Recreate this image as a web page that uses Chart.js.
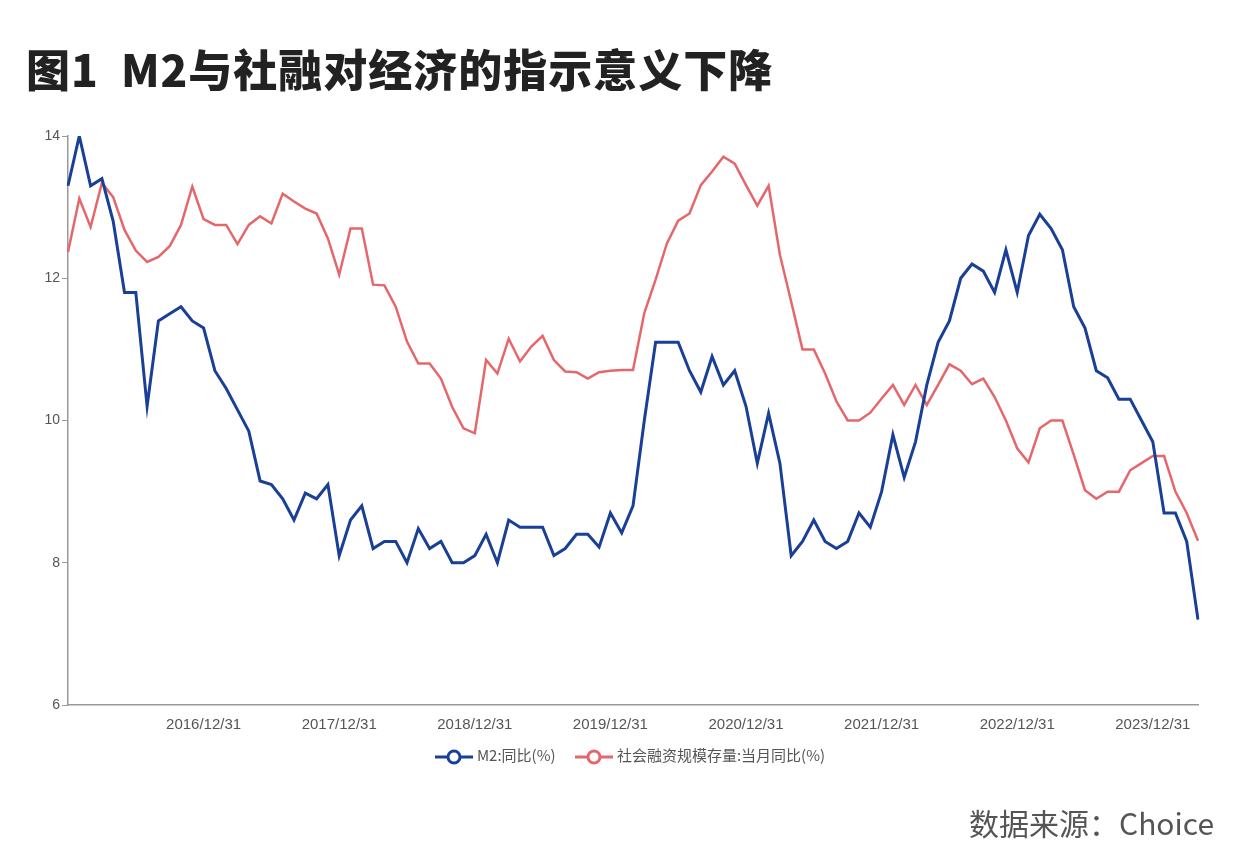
<!DOCTYPE html>
<html>
<head>
<meta charset="utf-8">
<script src="https://cdn.jsdelivr.net/npm/chart.js@4"></script>
<style>
  body { margin: 0; background: #fff; font-family: "Noto Sans CJK SC", "Noto Sans", sans-serif; }
  #wrap { position: relative; width: 1240px; height: 860px; }
  #chart { position: absolute; left: 0; top: 0; }
  h1 { position: absolute; left: 26px; top: 36px; margin: 0; font-size: 44px; font-weight: 900; color: #222; letter-spacing: 1px; }
  #legend { position: absolute; top: 744px; left: 0; width: 1260px; text-align: center; font-size: 15px; color: #555; }
  #legend span { margin: 0 8px; }
  #legend svg { vertical-align: middle; margin-right: 4px; }
  #src { position: absolute; right: 26px; top: 800px; font-size: 30px; color: #555; }
</style>
</head>
<body>
<div id="wrap">
  <canvas id="chart" width="1240" height="860"></canvas>
  <h1>图1&nbsp;&nbsp;M2与社融对经济的指示意义下降</h1>
  <div id="legend">
    <span><svg width="38" height="16"><line x1="0" y1="8" x2="38" y2="8" stroke="#1a3f96" stroke-width="3"/><circle cx="19" cy="8" r="6" fill="#fff" stroke="#1a3f96" stroke-width="3"/></svg>M2:同比(%)</span>
    <span><svg width="38" height="16"><line x1="0" y1="8" x2="38" y2="8" stroke="#e5676b" stroke-width="3"/><circle cx="19" cy="8" r="6" fill="#fff" stroke="#e5676b" stroke-width="3"/></svg>社会融资规模存量:当月同比(%)</span>
  </div>
  <div id="src">数据来源：Choice</div>
</div>
<script>
// monthly, 2015/12 .. 2024/04
const months = [];
for (let y = 2015, m = 12; y < 2024 || m <= 4; ) {
    const last = new Date(y, m, 0).getDate();
    months.push(y + '/' + String(m).padStart(2, '0') + '/' + last);
    m++;
    if (m > 12) { m = 1; y++; }
}

const m2 = [13.3, 14.0, 13.3, 13.4, 12.8, 11.8, 11.8, 10.2, 11.4, 11.5, 11.6, 11.4, 11.3,
    10.7, 10.45, 10.15, 9.85, 9.15, 9.1, 8.9, 8.6, 8.98, 8.9, 9.1, 8.1,
    8.6, 8.8, 8.2, 8.3, 8.3, 8.0, 8.48, 8.2, 8.3, 8.0, 8.0, 8.1,
    8.4, 8.0, 8.6, 8.5, 8.5, 8.5, 8.1, 8.2, 8.4, 8.4, 8.22, 8.7,
    8.42, 8.8, 10.0, 11.1, 11.1, 11.1, 10.7, 10.4, 10.9, 10.5, 10.7, 10.2,
    9.4, 10.1, 9.4, 8.1, 8.3, 8.6, 8.3, 8.2, 8.3, 8.7, 8.5, 9.0,
    9.8, 9.2, 9.7, 10.5, 11.1, 11.4, 12.0, 12.2, 12.1, 11.8, 12.4, 11.8,
    12.6, 12.9, 12.7, 12.4, 11.6, 11.3, 10.7, 10.6, 10.3, 10.3, 10.0, 9.7,
    8.7, 8.7, 8.3, 7.2];

const tsf = [12.37, 13.12, 12.72, 13.34, 13.14, 12.68, 12.39, 12.23, 12.3, 12.45, 12.75, 13.29, 12.83,
    12.75, 12.75, 12.48, 12.75, 12.87, 12.77, 13.19, 13.08, 12.98, 12.91, 12.56, 12.05,
    12.7, 12.7, 11.91, 11.9, 11.6, 11.11, 10.8, 10.8, 10.59, 10.19, 9.89, 9.82,
    10.85, 10.66, 11.15, 10.83, 11.04, 11.19, 10.85, 10.69, 10.68, 10.59, 10.68, 10.7,
    10.71, 10.71, 11.51, 11.98, 12.49, 12.81, 12.91, 13.31, 13.5, 13.71, 13.61, 13.31,
    13.02, 13.3, 12.33, 11.67, 11.0, 11.0, 10.66, 10.27, 10.0, 10.0, 10.11, 10.31,
    10.5, 10.22, 10.5, 10.22, 10.5, 10.79, 10.7, 10.51, 10.59, 10.33, 10.0, 9.61,
    9.41, 9.89, 10.0, 10.0, 9.52, 9.02, 8.9, 9.0, 9.0, 9.3, 9.4, 9.5,
    9.5, 9.0, 8.7, 8.31];

const yTicks = [6, 8, 10, 12, 14];

new Chart(document.getElementById('chart'), {
    type: 'line',
    data: {
        labels: months,
        datasets: [
            { label: 'M2:同比(%)', data: m2, borderColor: '#1a3f96', borderWidth: 3, pointRadius: 0, tension: 0 },
            { label: '社会融资规模存量:当月同比(%)', data: tsf, borderColor: '#e5676b', borderWidth: 2.5, pointRadius: 0, tension: 0 }
        ]
    },
    options: {
        responsive: false,
        animation: false,
        layout: { padding: { left: 0, right: 42, top: 136, bottom: 125 } },
        plugins: { legend: { display: false }, tooltip: { enabled: false } },
        scales: {
            x: {
                offset: false,
                grid: { display: false },
                border: { color: '#999', width: 1.5 },
                afterFit: s => { s.height = 30; },
                ticks: {
                    autoSkip: false, maxRotation: 0, color: '#555', font: { size: 15 },
                    callback: function (v, i) { return months[i].slice(5, 7) === '12' && i > 0 ? months[i] : ''; }
                }
            },
            y: {
                min: 6, max: 14,
                afterFit: s => { s.width = 68; },
                afterBuildTicks: s => { s.ticks = yTicks.map(v => ({ value: v })); },
                grid: { drawOnChartArea: false, tickLength: 6, color: '#999' },
                border: { color: '#999', width: 1.5 },
                ticks: { color: '#555', font: { size: 14 }, padding: 2 }
            }
        }
    }
});
</script>
</body>
</html>
